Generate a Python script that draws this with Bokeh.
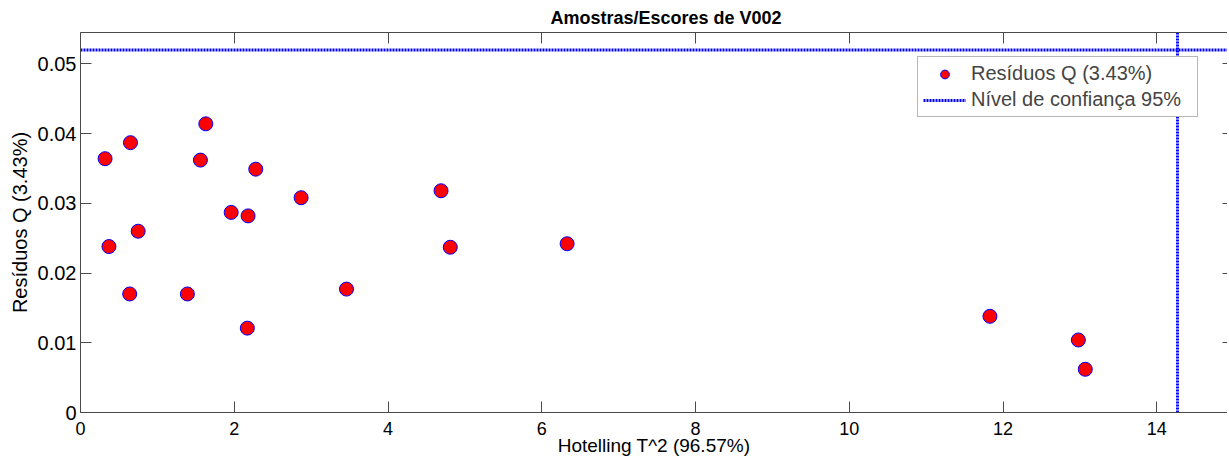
from bokeh.plotting import figure
from bokeh.models import LinearAxis, Range1d, Legend, LegendItem, FixedTicker
from bokeh.embed import file_html
from bokeh.resources import INLINE

# ---- data ----
t2 = [0.32, 0.37, 0.65, 0.75, 0.64, 1.39, 1.56, 1.63, 1.96, 2.18,
      2.28, 2.17, 2.87, 3.46, 4.69, 4.81, 6.33, 11.83, 12.98, 13.07]
q = [0.0364, 0.0238, 0.0387, 0.0260, 0.0170, 0.0170, 0.0362, 0.0414, 0.0287, 0.0282,
     0.0349, 0.0121, 0.0308, 0.0177, 0.0318, 0.0237, 0.0242, 0.0138, 0.0104, 0.0062]
t2_limit = 14.27
q_limit = 0.0520
x_ticks = [0, 2, 4, 6, 8, 10, 12, 14]
y_ticks = [0, 0.01, 0.02, 0.03, 0.04, 0.05]
y_tick_labels = ["0", "0.01", "0.02", "0.03", "0.04", "0.05"]
x_max = 14.92
y_max = 0.0545

title_text = "Amostras/Escores de V002"
x_label = "Hotelling T^2 (96.57%)"
y_label = "Resíduos Q (3.43%)"
series_label = "Resíduos Q (3.43%)"
limit_label = "Nível de confiança 95%"

FONT = "Liberation Sans"
SPINE = "#4a4a4a"

p = figure(frame_width=1147, frame_height=380, output_backend="svg", toolbar_location=None,
           x_range=Range1d(0, x_max), y_range=Range1d(0, y_max),
           min_border_left=80, min_border_top=32, min_border_right=0, min_border_bottom=0)
p.outline_line_color = None
p.xgrid.visible = False
p.ygrid.visible = False
p.background_fill_color = "white"
p.border_fill_color = "white"

p.title.text = title_text
p.title.text_font = FONT
p.title.text_font_size = "18px"
p.title.text_font_style = "bold"
p.title.text_color = "black"
p.title.align = "left"
p.title.offset = 470
p.title.standoff = 9

def style_axis(ax, labels=True):
    ax.axis_line_color = SPINE
    ax.axis_line_width = 1
    ax.major_tick_line_color = SPINE
    ax.major_tick_in = 11
    ax.major_tick_out = 0
    ax.minor_tick_line_color = None
    if not labels:
        ax.major_label_text_font_size = "0px"
        ax.major_label_standoff = 0

xa = p.xaxis[0]
xa.ticker = FixedTicker(ticks=x_ticks)
style_axis(xa)
xa.major_label_text_font = FONT
xa.major_label_text_font_size = "18px"
xa.major_label_text_color = "black"
xa.major_label_standoff = 9
xa.axis_label = x_label
xa.axis_label_text_font = FONT
xa.axis_label_text_font_size = "19px"
xa.axis_label_text_font_style = "normal"
xa.axis_label_text_color = "black"
xa.axis_label_standoff = -3

ya = p.yaxis[0]
ya.ticker = FixedTicker(ticks=y_ticks)
ya.major_label_overrides = {t: l for t, l in zip(y_ticks, y_tick_labels)}
style_axis(ya)
ya.major_label_text_font = FONT
ya.major_label_text_font_size = "20px"
ya.major_label_text_color = "black"
ya.major_label_standoff = 4
ya.axis_label = y_label
ya.axis_label_text_font = FONT
ya.axis_label_text_font_size = "20px"
ya.axis_label_text_font_style = "normal"
ya.axis_label_text_color = "black"
ya.axis_label_standoff = 4

top = LinearAxis(ticker=FixedTicker(ticks=x_ticks),
                 major_label_overrides={t: "" for t in x_ticks})
style_axis(top, labels=False)
p.add_layout(top, "above")

right = LinearAxis(ticker=FixedTicker(ticks=y_ticks),
                   major_label_overrides={t: "" for t in y_ticks})
style_axis(right, labels=False)
right.axis_line_color = None
right.major_tick_in = 5
p.add_layout(right, "right")

# threshold lines
hl = p.line([0, x_max], [q_limit, q_limit], line_color="#0000ff", line_width=3, line_dash="2 1")
vl = p.line([t2_limit, t2_limit], [0, y_max], line_color="#0000ff", line_width=3, line_dash="2 1")

sc = p.scatter(t2, q, marker="circle", size=14, fill_color="#ff0000", line_color="#0000ff", line_width=1)

legend = Legend(items=[LegendItem(label=series_label, renderers=[sc]),
                       LegendItem(label=limit_label, renderers=[hl])],
                location=(837, 295))
legend.label_text_font = FONT
legend.label_text_font_size = "20px"
legend.label_standoff = 5
legend.label_width = 221
legend.glyph_width = 43
legend.glyph_height = 22
legend.spacing = 3
legend.padding = 5
legend.margin = 0
legend.border_line_color = "#6e6e6e"
legend.border_line_width = 1
legend.background_fill_color = "white"
legend.background_fill_alpha = 1
p.add_layout(legend, "center")

open("out.html", "w").write(file_html(p, INLINE))
